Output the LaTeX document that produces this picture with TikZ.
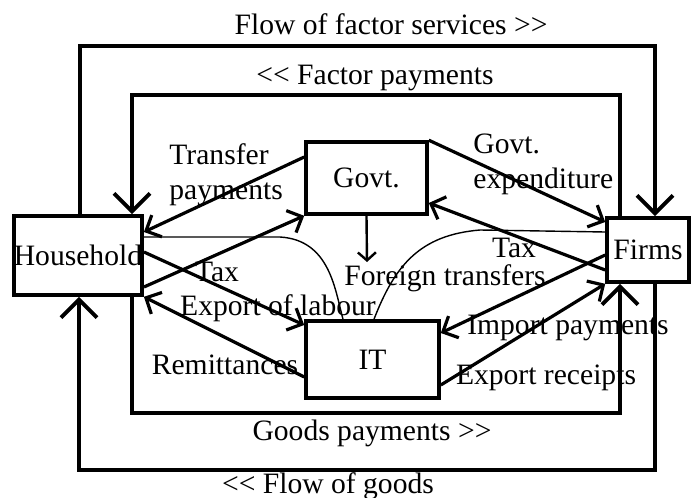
\documentclass[tikz,border=0pt]{standalone}
\usepackage{fontspec}
\setmainfont{Liberation Serif}
\usetikzlibrary{arrows.meta}

% a << es >> jelek ne legyenek ligaturak
\newcommand{\balra}{<\kern0pt<}
\newcommand{\jobbra}{>\kern0pt>}

\begin{document}
\begin{tikzpicture}[x=0.5pt,y=-0.5pt,
        every node/.style={font=\fontsize{14.8}{17.5}\selectfont, inner sep=0pt},
        doboz/.style={draw, line width=1.8pt},
        kor/.style={line width=2pt, -{Straight Barb[length=9pt,width=18pt]}},
        nyil/.style={line width=1.6pt, -{Straight Barb[length=6pt,width=12pt]}},
        gorbe/.style={line width=0.7pt}]
        \useasboundingbox (0,0) rectangle (691,498);
        % A negy szereplo dobozai
        \node[doboz, minimum width=64pt, minimum height=39.5pt] (hh) at (78,255.5) {Household};
        \node[doboz, minimum width=60.5pt, minimum height=36pt] (govt) at (366.5,178) {Govt.};
        \node[doboz, minimum width=66.5pt, minimum height=38.5pt] (it) at (372.5,359.5) {IT};
        \node[doboz, minimum width=41pt, minimum height=32pt] (firms) at (648,250) {Firms};
        % Kulso es belso korok
        \draw[kor] (80,0 |- hh.north) -- (80,46) -- (655,46) -- (655,0 |- firms.north);
        \draw[kor] (620,0 |- firms.north) -- (620,95) -- (132,95) -- (132,0 |- hh.north);
        \draw[kor] (132,0 |- hh.south) -- (132,413) -- (620,413) -- (620,0 |- firms.south);
        \draw[kor] (655,0 |- firms.south) -- (655,470) -- (79,470) -- (79,0 |- hh.south);
        % A korok feliratai
        \node (cim1) at (391,24) {Flow of factor services \jobbra};
        \node (cim2) at (375,78) {\balra{} Factor payments};
        \node (cim3) at (372,433) {Goods payments \jobbra};
        \node (cim4) at (328,486) {\balra{} Flow of goods};
        % Aramlasok a dobozok kozott
        \draw[nyil] (govt.west |- 0,157) -- (hh.east |- 0,232);
        \draw[nyil] (hh.east |- 0,287) -- (govt.south west);
        \draw[nyil] (hh.east |- 0,252) -- (it.west |- 0,325);
        \draw[nyil] (it.west |- 0,377) -- (hh.south east);
        \draw[nyil] (govt.north east) -- (firms.west |- 0,222);
        \draw[nyil] (firms.west |- 0,270) -- (govt.east |- 0,203);
        \draw[nyil] (firms.west |- 0,255) -- (it.east |- 0,333);
        \draw[nyil] (it.east |- 0,385) -- (firms.south west);
        % Kulfoldi transzferek
        \coordinate (ft) at (367,262);
        \draw[line width=1.2pt, -{Straight Barb[length=4pt,width=9pt]}] (govt.south) -- (ft);
        \draw[gorbe] (hh.east |- 0,237) -- (280,237) .. controls (330,240) and (335,290) .. (343,0 |- it.north);
        \draw[gorbe] (374,0 |- it.north) .. controls (395,265) and (420,235) .. (480,230) -- (firms.west |- 0,232);
        % Nyilak feliratai
        \node[anchor=west, align=left] (ltp) at (169,175) {Transfer\\payments};
        \node[anchor=west, align=left] (lge) at (473,164) {Govt.\\expenditure};
        \node (ltax1) at (217,272) {Tax};
        \node (lexp) at (278,308) {Export of labour};
        \node (lrem) at (225,365) {Remittances};
        \node (lft) at (445,278) {Foreign transfers};
        \node (ltax2) at (514,248) {Tax};
        \node (limp) at (568,328) {Import payments};
        \node (lexr) at (546,378) {Export receipts};
    \end{tikzpicture}
\end{document}
